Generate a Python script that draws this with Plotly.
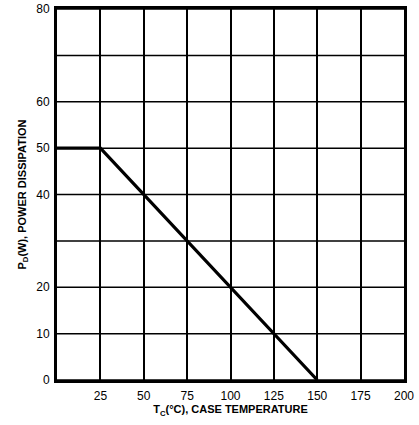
import plotly.graph_objects as go

temp_c = [0, 25, 150]
power_w = [50, 50, 0]
x_ticks = [25, 50, 75, 100, 125, 150, 175, 200]
y_ticks = [0, 10, 20, 40, 50, 60, 80]
y_grid = [0, 10, 20, 30, 40, 50, 60, 70, 80]

fig = go.Figure()
fig.add_trace(go.Scatter(x=temp_c, y=power_w, mode="lines",
                         line=dict(color="black", width=3.2), showlegend=False))

fig.update_layout(
    width=419, height=425,
    margin=dict(l=57, r=15, t=9, b=45),
    paper_bgcolor="white", plot_bgcolor="white",
    font=dict(family="Liberation Sans, Arial, sans-serif", color="black", size=12),
    xaxis=dict(range=[0, 200], tickvals=x_ticks, ticktext=[str(v) for v in x_ticks],
               showgrid=True, gridcolor="black", gridwidth=1.5, automargin=False,
               showline=True, linecolor="black", linewidth=3, mirror=True,
               ticks="", zeroline=False, ticklabelstandoff=3,
               title=dict(text="<b>T<sub>C</sub>(°C), CASE TEMPERATURE</b>",
                          font=dict(size=11), standoff=2)),
    yaxis=dict(range=[0, 80], tickvals=y_ticks, ticktext=[str(v) for v in y_ticks],
               showgrid=False, automargin=False,
               showline=True, linecolor="black", linewidth=3, mirror=True,
               ticks="", zeroline=False, ticklabelstandoff=2,
               title=dict(text="<b>P<sub>D</sub>(W), POWER DISSIPATION</b>",
                          font=dict(size=11), standoff=8)),
)
for v in y_grid:
    fig.add_shape(type="line", xref="paper", x0=0, x1=1, yref="y", y0=v, y1=v,
                  line=dict(color="black", width=1.5), layer="below")

fig.write_html("out.html", config={"displayModeBar": False},
               post_script="document.body.style.margin='0';")
